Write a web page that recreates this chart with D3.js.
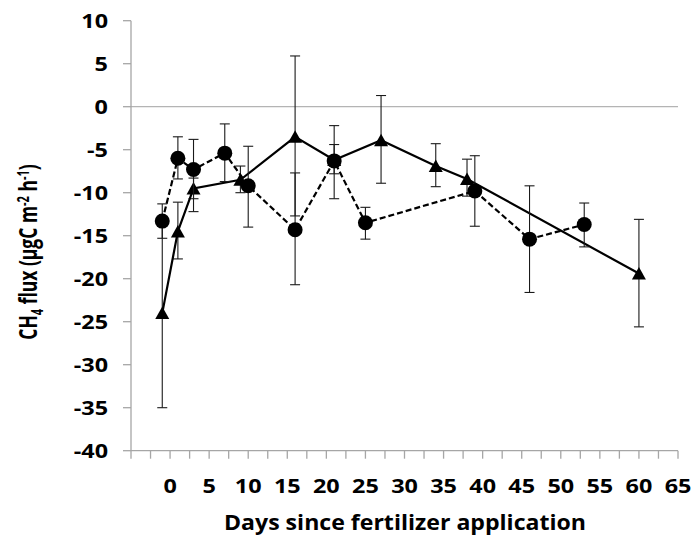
<!DOCTYPE html>
<html>
<head>
<meta charset="utf-8">
<script src="https://cdn.jsdelivr.net/npm/d3@7"></script>
<style>
  html, body { margin: 0; padding: 0; background: #fff; }
  svg { display: block; }
  text { font-family: "Open Sans", "Liberation Sans", sans-serif; font-weight: bold; fill: #000; }
</style>
</head>
<body>
<svg id="chart" width="693" height="537"></svg>
<script>
// circles, dashed line
const dayCircle = [-1, 1, 3, 7, 10, 16, 21, 25, 39, 46, 53];
const fluxCircle = [-13.3, -6.0, -7.3, -5.4, -9.2, -14.3, -6.3, -13.5, -9.8, -15.4, -13.7];
const circleHi = [-11.3, -3.5, -3.8, -2.0, -4.6, -7.7, -2.2, -11.7, -5.7, -9.2, -11.2];
const circleLo = [-15.3, -8.4, -12.2, -8.7, -14.0, -20.7, -10.7, -15.4, -13.9, -21.6, -16.3];

// triangles, solid line
const dayTri = [-1, 1, 3, 9, 16, 21, 27, 34, 38, 60];
const fluxTri = [-24.0, -14.5, -9.5, -8.5, -3.5, -6.2, -3.9, -6.9, -8.4, -19.4];
const triHi = [-13.0, -11.1, -8.3, -6.9, 5.9, -4.4, 1.3, -4.3, -6.1, -13.1];
const triLo = [-35.0, -17.7, -10.7, -10.0, -12.7, -7.8, -8.9, -9.3, -10.4, -25.6];

const xTicks = d3.range(-5, 65.1, 2.5);
const xLabels = d3.range(0, 65.1, 5);
const yTicks = d3.range(-40, 10.1, 5);

const svg = d3.select('#chart');
const x = d3.scaleLinear().domain([-5, 65]).range([131, 678]);
const y = d3.scaleLinear().domain([-40, 10]).range([450.7, 20.7]);
const axisColor = '#a6a6a6';

// zero line
svg.append('line').attr('x1', x(-5)).attr('x2', x(65)).attr('y1', y(0)).attr('y2', y(0))
  .attr('stroke', '#b4b4b4').attr('stroke-width', 1.3);

// y axis
svg.append('line').attr('x1', x(-5)).attr('x2', x(-5)).attr('y1', y(-40)).attr('y2', y(10))
  .attr('stroke', axisColor).attr('stroke-width', 1.3);
svg.selectAll('line.ytick').data(yTicks).join('line').attr('class', 'ytick')
  .attr('x1', x(-5) - 8).attr('x2', x(-5)).attr('y1', d => y(d)).attr('y2', d => y(d))
  .attr('stroke', axisColor).attr('stroke-width', 1.3);
svg.selectAll('text.ylab').data(yTicks).join('text').attr('class', 'ylab')
  .attr('transform', d => 'translate(108,' + y(d) + ') scale(1.2,1)')
  .attr('dy', '0.36em').attr('text-anchor', 'end')
  .attr('font-size', 19.5).text(d => d);

// x axis
svg.append('line').attr('x1', x(-5)).attr('x2', x(65)).attr('y1', y(-40)).attr('y2', y(-40))
  .attr('stroke', axisColor).attr('stroke-width', 1.3);
svg.selectAll('line.xtick').data(xTicks).join('line').attr('class', 'xtick')
  .attr('x1', d => x(d)).attr('x2', d => x(d)).attr('y1', y(-40)).attr('y2', y(-40) + 8)
  .attr('stroke', axisColor).attr('stroke-width', 1.3);
svg.selectAll('text.xlab').data(xLabels).join('text').attr('class', 'xlab')
  .attr('transform', d => 'translate(' + x(d) + ',493) scale(1.2,1)').attr('text-anchor', 'middle')
  .attr('font-size', 19.5).text(d => d);

// axis titles
svg.append('text').attr('transform', 'translate(405,530) scale(1.1,1)').attr('text-anchor', 'middle')
  .attr('font-size', 21).text('Days since fertilizer application');

const yt = svg.append('text').attr('transform', 'translate(37,252) scale(1.4,1) rotate(-90)')
  .attr('text-anchor', 'middle').attr('font-size', 17.5);
yt.append('tspan').text('CH');
yt.append('tspan').attr('font-size', 11).attr('dy', 4).text('4');
yt.append('tspan').attr('dy', -4).text(' flux (µgC m');
yt.append('tspan').attr('font-size', 11).attr('dy', -6).text('-2');
yt.append('tspan').attr('dy', 6).text(' h');
yt.append('tspan').attr('font-size', 11).attr('dy', -6).text('-1');
yt.append('tspan').attr('dy', 6).text(')');

const tri = dayTri.map((d, i) => ({ day: d, v: fluxTri[i], hi: triHi[i], lo: triLo[i] }));
const circ = dayCircle.map((d, i) => ({ day: d, v: fluxCircle[i], hi: circleHi[i], lo: circleLo[i] }));

const line = d3.line().x(d => x(d.day)).y(d => y(d.v));

function errorBars(data, cls) {
  const g = svg.append('g').attr('class', cls).attr('stroke', '#1a1a1a').attr('stroke-width', 1.1);
  g.selectAll('line.v').data(data).join('line').attr('class', 'v')
    .attr('x1', d => x(d.day)).attr('x2', d => x(d.day)).attr('y1', d => y(d.hi)).attr('y2', d => y(d.lo));
  g.selectAll('line.t').data(data).join('line').attr('class', 't')
    .attr('x1', d => x(d.day) - 5).attr('x2', d => x(d.day) + 5).attr('y1', d => y(d.hi)).attr('y2', d => y(d.hi));
  g.selectAll('line.b').data(data).join('line').attr('class', 'b')
    .attr('x1', d => x(d.day) - 5).attr('x2', d => x(d.day) + 5).attr('y1', d => y(d.lo)).attr('y2', d => y(d.lo));
}

// triangle series
errorBars(tri, 'err-tri');
svg.append('path').datum(tri).attr('d', line).attr('fill', 'none')
  .attr('stroke', '#000').attr('stroke-width', 2.2);
svg.selectAll('path.tri').data(tri).join('path').attr('class', 'tri')
  .attr('transform', d => 'translate(' + x(d.day) + ',' + y(d.v) + ')')
  .attr('d', 'M0,-6.5 L7,6 L-7,6 Z').attr('fill', '#000');

// circle series
errorBars(circ, 'err-circ');
svg.append('path').datum(circ).attr('d', line).attr('fill', 'none')
  .attr('stroke', '#000').attr('stroke-width', 2.2).attr('stroke-dasharray', '6,3');
svg.selectAll('circle.pt').data(circ).join('circle').attr('class', 'pt')
  .attr('cx', d => x(d.day)).attr('cy', d => y(d.v)).attr('r', 7.5).attr('fill', '#000');
</script>
</body>
</html>
